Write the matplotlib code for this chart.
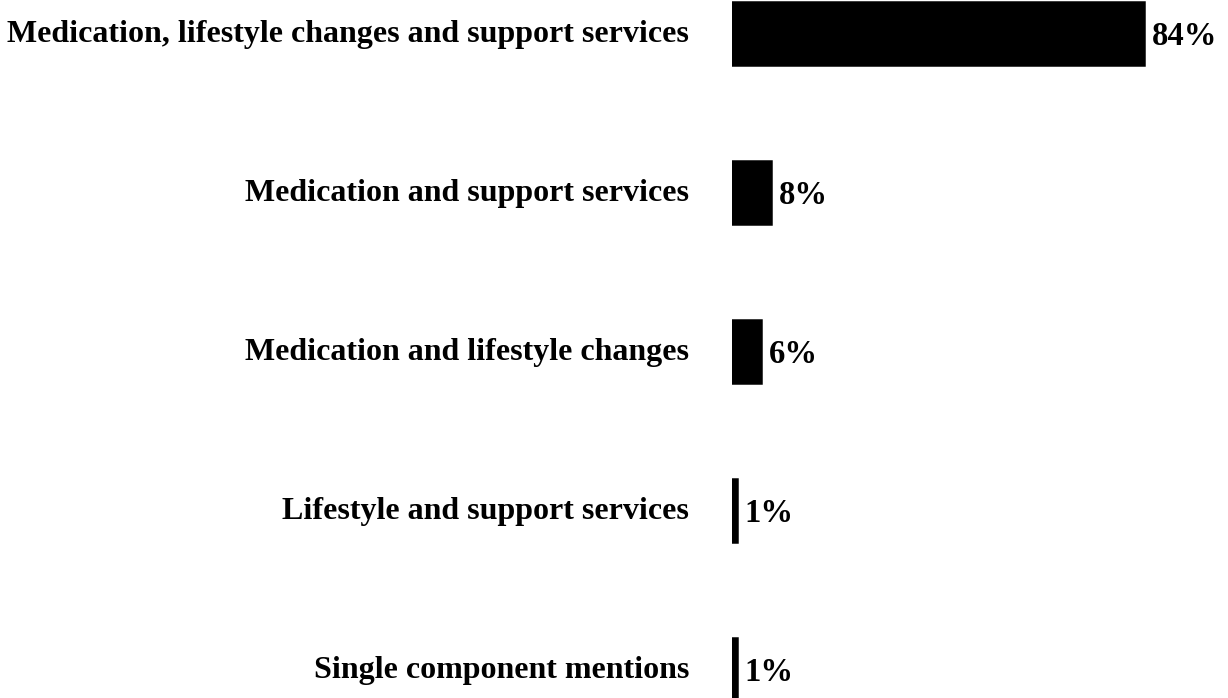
import matplotlib.pyplot as plt

categories = [
    "Medication, lifestyle changes and support services",
    "Medication and support services",
    "Medication and lifestyle changes",
    "Lifestyle and support services",
    "Single component mentions",
]
values = [84, 8, 6, 1, 1]

plt.rcParams['font.family'] = ['Liberation Serif', 'DejaVu Serif']

fig = plt.figure(figsize=(12.28, 6.98), dpi=100)
ax = fig.add_axes([732 / 1228, 0, 496 / 1228, 1])

y = list(range(len(categories)))
ax.barh(y, values, height=0.40, color='black', edgecolor='black', linewidth=1.8)
ax.set_ylim(len(categories) - 1 + 0.18, -0.21)
ax.set_xlim(0, 496 / 4.9)

for yi, v, cat in zip(y, values, categories):
    ax.text(v + 1.6, yi + 0.02, f"{v}%", va='center', ha='left', fontsize=23.5, fontweight='bold')
    ax.text(-8.7, yi + 0.01, cat, va='center', ha='right', fontsize=23, fontweight='bold',
            clip_on=False)

ax.axis('off')
fig.savefig('out.png', dpi=100)
